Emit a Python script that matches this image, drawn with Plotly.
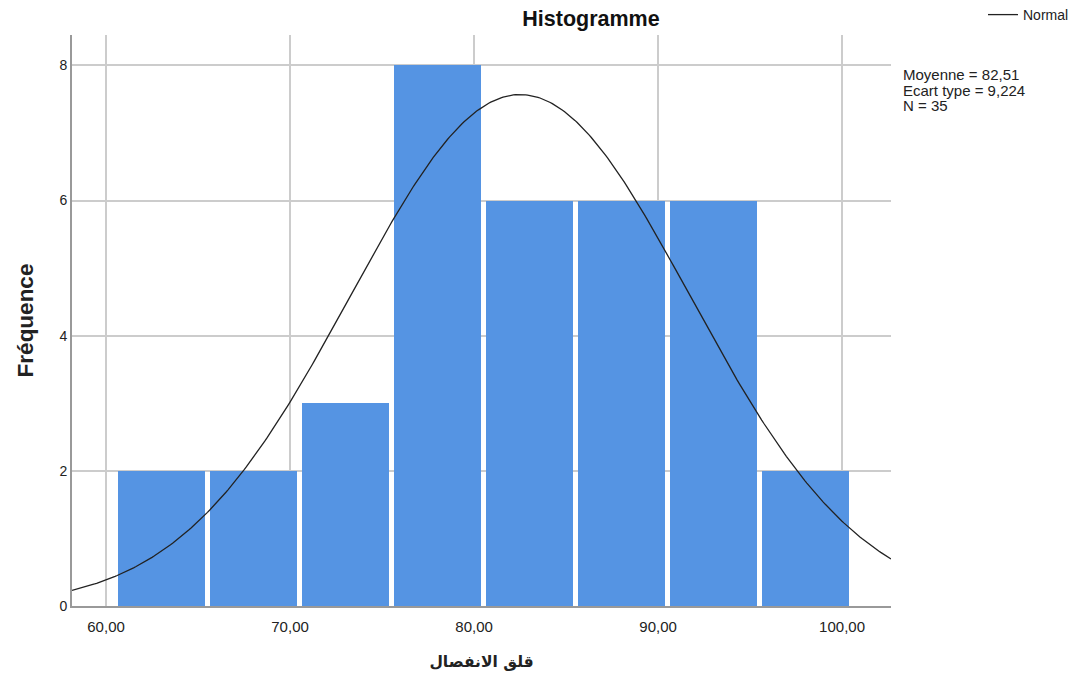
import numpy as np
import plotly.graph_objects as go

# Data
bin_centers = [63, 68, 73, 78, 83, 88, 93, 98]
frequencies = [2, 2, 3, 8, 6, 6, 6, 2]
bin_width = 5
mean_value = 82.51
std_value = 9.224
n_value = 35
x_tick_vals = [60, 70, 80, 90, 100]
x_tick_text = ["60,00", "70,00", "80,00", "90,00", "100,00"]
y_tick_vals = [0, 2, 4, 6, 8]
stats_lines = ["Moyenne = 82,51", "Ecart type = 9,224", "N = 35"]

x_range = [58.15, 102.66]
y_range = [0, 8.45]

# Normal curve from the reported mean / sd / N
xs = np.linspace(x_range[0], x_range[1], 400)
ys = n_value * bin_width / (std_value * np.sqrt(2 * np.pi)) * np.exp(-0.5 * ((xs - mean_value) / std_value) ** 2)

fig = go.Figure()
fig.add_trace(go.Bar(
    x=bin_centers, y=frequencies, width=4.72,
    marker=dict(color="#5594E3", line=dict(width=0)),
    showlegend=False, hoverinfo="x+y",
))
fig.add_trace(go.Scatter(
    x=xs, y=ys, mode="lines", name="Normal",
    line=dict(color="#222222", width=1.3),
))

font_family = "Arial, Liberation Sans, DejaVu Sans, sans-serif"
L, R, T, B = 72, 181, 35, 76
pw, ph = 1072 - L - R, 682 - T - B

annotations = []
for i, line in enumerate(stats_lines):
    ypx = 75 + i * 15.5
    annotations.append(dict(
        text=line, x=(901 - L) / pw, xref="paper", xanchor="left",
        y=(682 - B - ypx) / ph, yref="paper", yanchor="middle",
        showarrow=False, align="left", font=dict(size=15, color="#222222"),
    ))

fig.update_layout(
    width=1072, height=682,
    margin=dict(l=L, r=R, t=T, b=B, autoexpand=False),
    paper_bgcolor="white", plot_bgcolor="white",
    font=dict(family=font_family, size=14, color="#222222"),
    title=dict(text="<b>Histogramme</b>", x=591 / 1072, xanchor="center",
               y=1 - 18 / 682, yanchor="middle",
               font=dict(size=21.5, color="#111111")),
    bargap=0,
    legend=dict(x=(1074 - L) / pw, xanchor="right", y=(682 - B - 15) / ph, yanchor="middle",
                bgcolor="rgba(0,0,0,0)", font=dict(size=14),
                itemwidth=30),
    xaxis=dict(
        range=x_range, tickvals=x_tick_vals, ticktext=x_tick_text,
        showgrid=True, gridcolor="#CCCCCC", gridwidth=1.5,
        showline=True, linecolor="#999999", linewidth=2,
        ticks="outside", ticklen=6, tickcolor="rgba(0,0,0,0)", zeroline=False,
        tickfont=dict(size=15), automargin=False,
        title=dict(text="<b>قلق الانفصال</b>", font=dict(size=15.5, family="DejaVu Sans, Arial"), standoff=22),
    ),
    yaxis=dict(
        range=y_range, tickvals=y_tick_vals,
        showgrid=True, gridcolor="#CCCCCC", gridwidth=1.5,
        showline=True, linecolor="#999999", linewidth=2,
        ticks="", zeroline=False,
        tickfont=dict(size=14), automargin=False,
        title=dict(text="<b>Fréquence</b>", font=dict(size=22.5), standoff=20),
    ),
    annotations=annotations,
)

fig.write_html("out.html", config={"displayModeBar": False},
               post_script="document.body.style.margin='0';document.body.style.padding='0';")
